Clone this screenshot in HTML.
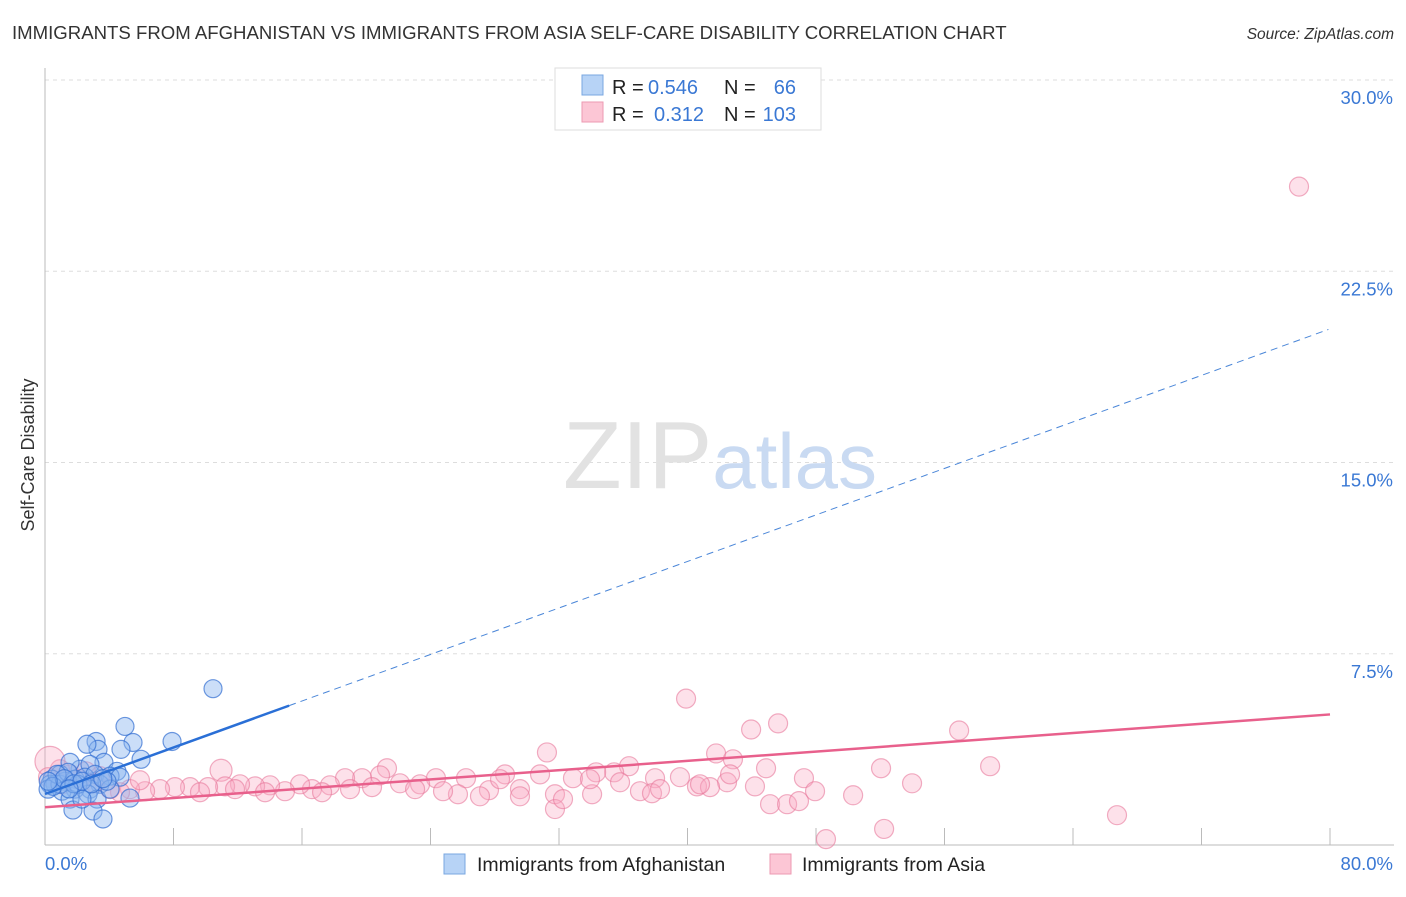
<!DOCTYPE html>
<html><head><meta charset="utf-8"><style>
body{margin:0;background:#fff;font-family:"Liberation Sans",sans-serif;}
svg text{font-family:"Liberation Sans",sans-serif;}
</style></head><body>
<svg id="chart" width="1406" height="892" xmlns="http://www.w3.org/2000/svg">
<text x="12" y="39" font-size="18.6" fill="#333">IMMIGRANTS FROM AFGHANISTAN VS IMMIGRANTS FROM ASIA SELF-CARE DISABILITY CORRELATION CHART</text>
<text x="1394" y="39" font-size="15.5" fill="#333" font-style="italic" text-anchor="end">Source: ZipAtlas.com</text>
<g id="grid"></g>
<text x="720" y="488" text-anchor="middle" font-size="96" fill="#e2e2e2" font-family="Liberation Serif"><tspan>ZIP</tspan><tspan fill="#c9daf2" font-family="Liberation Sans" font-size="78">atlas</tspan></text>
<g id="axes"></g>
<g id="pinkPts"></g>
<g id="bluePts"></g>
<g id="trends"></g>
<text transform="translate(34,455) rotate(-90)" text-anchor="middle" font-size="18" fill="#333">Self-Care Disability</text>
<g>
<rect x="555" y="68" width="266" height="62" fill="#fff" stroke="#ddd"/>
<rect x="582" y="75" width="21" height="20" fill="#b7d3f6" stroke="#7aa7e0"/>
<rect x="582" y="102" width="21" height="20" fill="#fcc6d5" stroke="#ec9ab2"/>
<text x="612" y="94" font-size="20" fill="#222">R =</text>
<text x="648" y="94" font-size="20" fill="#3a78d4">0.546</text>
<text x="724" y="94" font-size="20" fill="#222">N =</text>
<text x="796" y="94" font-size="20" fill="#3a78d4" text-anchor="end">66</text>
<text x="612" y="121" font-size="20" fill="#222">R =</text>
<text x="654" y="121" font-size="20" fill="#3a78d4">0.312</text>
<text x="724" y="121" font-size="20" fill="#222">N =</text>
<text x="796" y="121" font-size="20" fill="#3a78d4" text-anchor="end">103</text>
</g>
<g>
<rect x="444" y="854" width="21" height="20" fill="#b7d3f6" stroke="#7aa7e0"/>
<text x="477" y="871" font-size="19.5" fill="#222">Immigrants from Afghanistan</text>
<rect x="770" y="854" width="21" height="20" fill="#fcc6d5" stroke="#ec9ab2"/>
<text x="802" y="871" font-size="19.5" fill="#222">Immigrants from Asia</text>
</g>
</svg>
<script>
const yTicks=[7.5,15,22.5,30];
const yTickLabels=["7.5%","15.0%","22.5%","30.0%"];
const xTickLabels=["0.0%","80.0%"];
const blueX=[10.46,4.98,3.18,3.30,2.61,5.48,4.73,7.91,5.98,3.67,4.48,2.18,2.80,1.56,0.93,0.44,0.31,0.62,1.25,1.87,2.49,3.11,4.05,4.67,3.42,2.80,1.87,1.06,0.19,1.56,2.68,3.24,5.29,1.74,2.99,3.61,0.93,1.43,2.05,4.05,2.30,0.75,3.86,0.5,1.2,1.8,2.3,2.9,1.5,0.2,3.6];
const blueY=[6.13,4.65,4.06,3.75,3.95,4.02,3.75,4.06,3.36,3.24,2.89,2.97,3.16,3.24,2.77,2.58,2.38,2.38,2.50,2.58,2.66,2.77,2.70,2.66,2.38,2.19,2.19,2.11,2.19,1.80,1.99,1.80,1.84,1.37,1.33,1.02,2.38,2.85,2.38,2.19,1.80,2.77,2.50,2.3,2.6,2.4,2.5,2.4,2.2,2.5,2.6];
const pinkX=[78.07,39.91,56.91,45.64,43.96,31.25,41.78,42.83,58.84,52.05,44.89,36.36,21.29,10.96,53.98,47.25,42.46,40.59,39.53,37.98,35.43,34.31,32.87,30.82,28.64,26.21,24.34,23.35,22.10,20.86,19.74,18.68,17.74,16.62,15.88,14.94,14.01,13.08,12.14,11.21,10.15,9.03,8.09,7.16,6.23,5.29,4.67,4.05,3.11,2.18,1.56,0.93,0.31,0.19,1.06,2.55,3.42,5.91,44.20,41.40,37.04,34.06,31.75,29.57,27.64,25.71,24.78,37.79,47.94,50.31,45.14,46.20,46.94,31.75,66.74,52.24,48.62,32.25,27.08,23.04,17.25,13.70,11.83,9.65,18.99,20.36,40.78,35.80,28.33,38.29,42.65,33.93,29.57];
const pinkY=[25.82,5.74,4.49,4.77,4.53,3.63,3.59,3.36,3.09,3.01,3.01,3.09,3.01,2.93,2.42,2.62,2.46,2.30,2.66,2.62,2.85,2.85,2.62,2.77,2.77,2.62,2.62,2.38,2.42,2.73,2.62,2.62,2.34,2.19,2.38,2.11,2.34,2.30,2.38,2.30,2.27,2.27,2.27,2.19,2.11,2.19,2.07,2.19,2.42,2.58,2.77,2.97,3.28,2.66,2.38,2.89,2.70,2.54,2.30,2.27,2.11,1.99,1.99,2.19,2.15,1.99,2.11,2.03,2.11,1.95,1.60,1.60,1.72,1.41,1.17,0.63,0.23,1.80,1.91,2.19,2.07,2.07,2.19,2.07,2.19,2.27,2.38,2.46,2.58,2.19,2.77,2.58,1.91];
const blueTrend=[2.0,0.228]; const pinkTrend=[1.48,0.0455];
const NS="http://www.w3.org/2000/svg";
const X0=45,X1=1330,Y0=845,Y30=80;
const sx=v=>X0+v/80*(X1-X0);
const sy=v=>Y0-v/30*(Y0-Y30);
function mk(tag,attrs,parent){const e=document.createElementNS(NS,tag);for(const k in attrs)e.setAttribute(k,attrs[k]);parent.appendChild(e);return e;}
const grid=document.getElementById('grid'),axes=document.getElementById('axes');
yTicks.forEach((t,i)=>{
 const l=mk('line',{x1:X0,x2:1394,y1:sy(t),y2:sy(t),stroke:'#ddd','stroke-dasharray':'4,4'},grid);
 
 
 const tx=mk('text',{x:1393,y:sy(t)+24,'text-anchor':'end','font-size':18.5,fill:'#3a78d4'},axes);
 tx.textContent=yTickLabels[i];
 
 
});
mk('line',{x1:X0,x2:X0,y1:68,y2:Y0,stroke:'#bbb'},axes);
mk('line',{x1:X0,x2:1394,y1:Y0,y2:Y0,stroke:'#bbb'},axes);
for(let i=1;i<=10;i++){const t=mk('line',{x1:sx(i*8),x2:sx(i*8),y1:Y0-17,y2:Y0,stroke:'#bbb'},axes);
 
 }
const xl0=mk('text',{x:45,y:870,'font-size':18.5,fill:'#3a78d4'},axes);xl0.textContent=xTickLabels[0];


const xl1=mk('text',{x:1393,y:870,'font-size':18.5,fill:'#3a78d4','text-anchor':'end'},axes);xl1.textContent=xTickLabels[1];


const pg=document.getElementById('pinkPts');
pinkX.forEach((x,i)=>{const c=mk('circle',{cx:sx(x),cy:sy(pinkY[i]),r:(i==52?15:(i==13?11:9.5)),fill:'rgba(248,170,195,0.35)',stroke:'rgba(232,120,155,0.6)','stroke-width':1.2},pg);
 
 });
const bg=document.getElementById('bluePts');
blueX.forEach((x,i)=>{const c=mk('circle',{cx:sx(x),cy:sy(blueY[i]),r:9,fill:'rgba(140,182,240,0.45)',stroke:'rgba(50,110,210,0.7)','stroke-width':1.2},bg);
 
 });
const tg=document.getElementById('trends');
const b1=mk('line',{x1:sx(0),y1:sy(blueTrend[0]),x2:sx(15.2),y2:sy(blueTrend[0]+blueTrend[1]*15.2),stroke:'#2a6fd6','stroke-width':2.5},tg);


const b2=mk('line',{x1:sx(15.2),y1:sy(blueTrend[0]+blueTrend[1]*15.2),x2:sx(79.9),y2:sy(blueTrend[0]+blueTrend[1]*79.9),stroke:'#4a86d8','stroke-width':1,'stroke-dasharray':'7,5'},tg);


const p1=mk('line',{x1:sx(0),y1:sy(pinkTrend[0]),x2:sx(80),y2:sy(pinkTrend[0]+pinkTrend[1]*80),stroke:'#e8608c','stroke-width':2.5},tg);


</script>
</body></html>
